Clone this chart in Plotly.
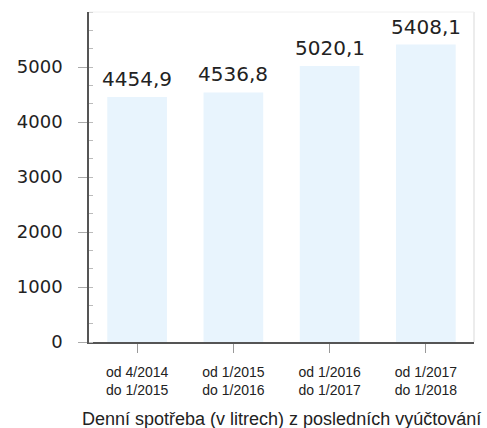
import plotly.graph_objects as go

categories = ["od 4/2014<br>do 1/2015", "od 1/2015<br>do 1/2016",
              "od 1/2016<br>do 1/2017", "od 1/2017<br>do 1/2018"]
values = [4454.9, 4536.8, 5020.1, 5408.1]
value_labels = ["4454,9", "4536,8", "5020,1", "5408,1"]
y_ticks = [0, 1000, 2000, 3000, 4000, 5000]
title_text = "Denní spotřeba (v litrech) z posledních vyúčtování"

fig = go.Figure()
fig.add_trace(go.Bar(
    x=categories, y=values,
    marker=dict(color="#e8f4fd", line=dict(width=0)),
    hoverinfo="skip",
))

for c, v, t in zip(categories, values, value_labels):
    fig.add_annotation(x=c, y=v, text=t, showarrow=False, yanchor="middle",
                       yshift=18, font=dict(family="DejaVu Sans", size=20, color="#222"))

fig.add_annotation(x=0.5, y=0, xref="paper", yref="paper", text=title_text,
                   showarrow=False, yanchor="middle", yshift=-77,
                   font=dict(family="Liberation Sans, Arial", size=18, color="#222"))

fig.update_layout(
    width=487, height=428,
    margin=dict(l=89, r=13, t=12, b=86),
    paper_bgcolor="white", plot_bgcolor="white",
    bargap=0.38, showlegend=False,
    xaxis=dict(
        showgrid=False, zeroline=False,
        showline=True, linecolor="#555", linewidth=1.5,
        ticks="outside", ticklen=9, tickcolor="#999", tickwidth=1,
        tickfont=dict(family="Liberation Sans, Arial", size=14, color="#222"),
        ticklabelstandoff=7,
    ),
    yaxis=dict(
        range=[0, 6000], tickvals=y_ticks,
        showgrid=False, zeroline=False,
        showline=True, linecolor="#555", linewidth=1.5,
        ticks="outside", ticklen=9, tickcolor="#aaa", tickwidth=1,
        tickfont=dict(family="DejaVu Sans", size=18, color="#222"),
        ticklabelstandoff=12,
        minor=dict(dtick=1000/3, ticks="inside", ticklen=4, tickcolor="#bbb", tickwidth=1),
    ),
)

fig.add_shape(type="line", xref="paper", yref="paper", x0=1, x1=1, y0=0, y1=1,
              line=dict(color="#e6e6e6", width=1.5))
fig.add_shape(type="line", xref="paper", yref="paper", x0=0, x1=1, y0=1, y1=1,
              line=dict(color="#f0f0f0", width=1))

fig.write_html("out.html")
